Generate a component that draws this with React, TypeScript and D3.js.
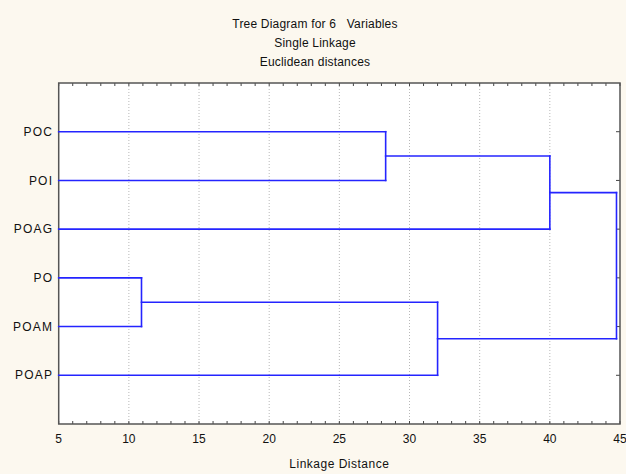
import { useEffect, useRef } from "react";
import * as d3 from "d3";

const titleLines = ["Tree Diagram for 6   Variables", "Single Linkage", "Euclidean distances"];
const leaves = ["POC", "POI", "POAG", "PO", "POAM", "POAP"];
// each cluster joins two nodes (leaf or earlier cluster) at a linkage distance
const clusterNames = ["C1", "C2", "C3", "C4", "C5"];
const clusterLeft = ["POC", "C1", "PO", "C3", "C2"];
const clusterRight = ["POI", "POAG", "POAM", "POAP", "C4"];
const clusterDistance = [28.3, 40.0, 10.9, 32.0, 44.75];
const xTicks = [5, 10, 15, 20, 25, 30, 35, 40, 45];

export default function App() {
  const svgRef = useRef<SVGSVGElement>(null);

  useEffect(() => {
    if (!svgRef.current) return;
    const svg = d3.select(svgRef.current);
    svg.selectAll("*").remove();

    const W = 626, H = 474;
    const margin = { top: 83, right: 6, bottom: 50, left: 58.7 };
    const width = W - margin.left - margin.right;
    const height = H - margin.top - margin.bottom;
    const font = "Arial, 'Liberation Sans', sans-serif";

    svg.append("rect").attr("width", W).attr("height", H).attr("fill", "#fcf8ef");

    // titles
    titleLines.forEach((t, i) => {
      svg.append("text")
        .attr("x", 315).attr("y", 27.5 + i * 19)
        .attr("text-anchor", "middle")
        .attr("font-family", font).attr("font-size", 12)
        .attr("letter-spacing", 0.2)
        .style("white-space", "pre")
        .attr("fill", "#111")
        .text(t);
    });

    const g = svg.append("g").attr("transform", `translate(${margin.left},${margin.top})`);
    g.append("rect").attr("width", width).attr("height", height).attr("fill", "#fff");

    const x = d3.scaleLinear().domain([5, 45]).range([0, width]);
    const y = d3.scalePoint<string>().domain(leaves).range([0, height]).padding(1);

    // gridlines
    g.selectAll(".grid")
      .data(xTicks.slice(1, -1))
      .enter().append("line")
      .attr("x1", d => x(d)).attr("x2", d => x(d))
      .attr("y1", 0).attr("y2", height)
      .attr("stroke", "#b8b8b8")
      .attr("stroke-width", 1)
      .attr("stroke-dasharray", "1,2");

    // minor ticks top and bottom (inward)
    const minor = d3.range(5, 46, 1);
    g.selectAll(".tb")
      .data(minor)
      .enter().append("line")
      .attr("x1", d => x(d)).attr("x2", d => x(d))
      .attr("y1", height).attr("y2", height - 3)
      .attr("stroke", "#444");
    g.selectAll(".tt")
      .data(minor)
      .enter().append("line")
      .attr("x1", d => x(d)).attr("x2", d => x(d))
      .attr("y1", 0).attr("y2", 3)
      .attr("stroke", "#444");

    // right side ticks at leaves
    g.selectAll(".tr")
      .data(leaves)
      .enter().append("line")
      .attr("x1", width).attr("x2", width - 4)
      .attr("y1", d => y(d)!).attr("y2", d => y(d)!)
      .attr("stroke", "#444");

    // frame
    g.append("rect").attr("width", width).attr("height", height)
      .attr("fill", "none").attr("stroke", "#555").attr("stroke-width", 1.5);

    // dendrogram
    const pos: Record<string, { x: number; y: number }> = {};
    for (const l of leaves) pos[l] = { x: x.domain()[0], y: y(l)! };
    const lines: [number, number, number, number][] = [];
    clusterNames.forEach((name, i) => {
      const a = pos[clusterLeft[i]], b = pos[clusterRight[i]];
      const d = clusterDistance[i];
      lines.push([x(a.x), a.y, x(d), a.y]);
      lines.push([x(b.x), b.y, x(d), b.y]);
      lines.push([x(d), a.y, x(d), b.y]);
      pos[name] = { x: d, y: (a.y + b.y) / 2 };
    });
    g.selectAll(".seg")
      .data(lines)
      .enter().append("line")
      .attr("x1", d => d[0]).attr("y1", d => d[1])
      .attr("x2", d => d[2]).attr("y2", d => d[3])
      .attr("stroke", "#2424ff")
      .attr("stroke-width", 1.6)
      .attr("stroke-linecap", "square");

    // leaf labels
    g.selectAll(".lbl")
      .data(leaves)
      .enter().append("text")
      .attr("x", -5.5).attr("y", d => y(d)!)
      .attr("dy", "0.35em")
      .attr("text-anchor", "end")
      .attr("font-family", font).attr("font-size", 12)
      .attr("letter-spacing", 1.2)
      .attr("fill", "#111")
      .text(d => d);

    // x tick labels
    g.selectAll(".xl")
      .data(xTicks)
      .enter().append("text")
      .attr("x", d => x(d)).attr("y", height + 18.5)
      .attr("text-anchor", "middle")
      .attr("font-family", font).attr("font-size", 12)
      .attr("fill", "#111")
      .text(d => d);

    g.append("text")
      .attr("x", width / 2).attr("y", height + 44)
      .attr("text-anchor", "middle")
      .attr("font-family", font).attr("font-size", 12)
      .attr("letter-spacing", 0.5)
      .attr("fill", "#111")
      .text("Linkage Distance");
  }, []);

  return (
    <svg ref={svgRef} width={626} height={474}
      style={{ position: "absolute", left: 0, top: 0, display: "block" }} />
  );
}
